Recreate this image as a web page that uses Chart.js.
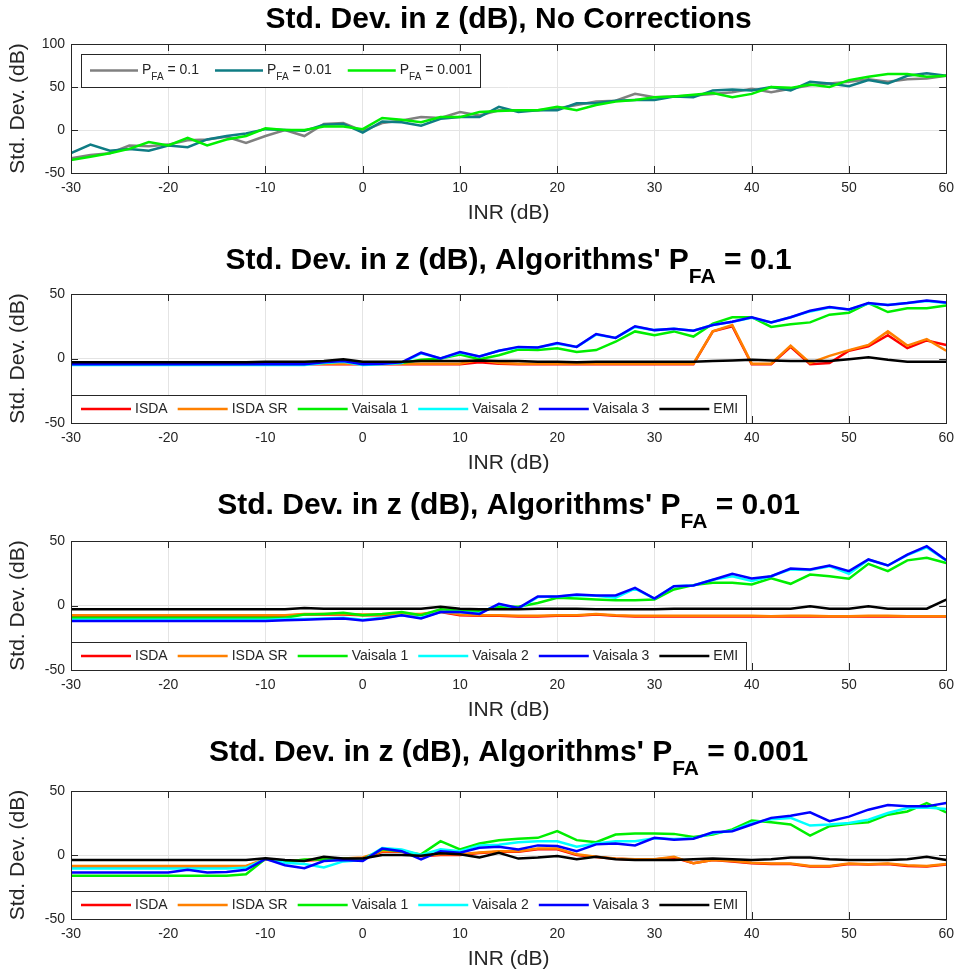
<!DOCTYPE html>
<html>
<head>
<meta charset="utf-8">
<script src="https://cdn.jsdelivr.net/npm/chart.js@4"></script>
<style>
  body { margin: 0; background: #fff; }
  canvas { position: absolute; left: 0; }
</style>
</head>
<body>
<canvas id="c1"></canvas>
<canvas id="c2"></canvas>
<canvas id="c3"></canvas>
<canvas id="c4"></canvas>
<script>
// INR (dB) sample points
const inr = [-30,-28,-26,-24,-22,-20,-18,-16,-14,-12,-10,-8,-6,-4,-2,0,2,4,6,8,10,12,14,16,18,20,22,24,26,28,30,32,34,36,38,40,42,44,46,48,50,52,54,56,58,60];
const xTickVals = [-30,-20,-10,0,10,20,30,40,50,60];
const yTicksTop = [-50,0,50,100];
const yTicksAlg = [-50,0,50];

// panel 1 - no corrections
const noCorr_pfa1   = [-33,-29,-27,-18,-19,-17,-12,-11,-8,-15,-7,0,-7,7,8,-1,8,11,15,14,21,17,23,23,23,25,29,33,34,42,38,39,40,42,44,48,44,48,52,54,56,59,56,59,60,63];
const noCorr_pfa01  = [-27,-17,-24,-22,-24,-18,-20,-11,-7,-4,1,0,-1,6,7,-3,10,9,5,13,15,15,27,21,23,23,31,31,34,35,35,39,38,46,47,46,50,46,56,54,51,58,54,63,66,63];
const noCorr_pfa001 = [-35,-31,-27,-22,-14,-18,-9,-18,-11,-7,2,0,0,4,4,1,14,12,9,15,15,21,22,23,23,27,23,29,33,35,38,39,41,43,38,42,50,49,53,50,58,62,65,65,62,63];

// panel 2 - algorithms' PFA = 0.1
const isda_1   = [-4.5,-4.5,-4.5,-4.5,-4.5,-4.5,-4.5,-4.5,-4.5,-4.5,-4.5,-4.5,-4.5,-4.5,-4.5,-4.5,-4.5,-4.5,-4.5,-4.5,-4.5,-3,-4,-4.5,-4.5,-4.5,-4.5,-4.5,-4.5,-4.5,-4.5,-4.5,-4.5,21,25,-4.5,-4.5,9,-4.5,-3.5,6,9.5,18,8,14,10.5];
const isdaSR_1 = [-4,-4,-4,-4,-4,-4,-4,-4,-4,-4,-4,-4,-4,-4,-4,-4,-4,-4,-4,-4,-4,-1,-3.5,-4,-4,-4,-4,-4,-4,-4,-4,-4,-4,21,26,-4,-4,10,-3.5,2,6.5,10.5,21,10,15,6];
const vais1_1  = [-3.5,-3.5,-3.5,-3.5,-3.5,-3.5,-3.5,-3.5,-3.5,-3.5,-3.5,-3.5,-3.5,-3.5,-2,-3.5,-3.5,-3.5,-1,0,3,-0.5,2.5,7,6.5,8,5,6.5,13,21,18,21,17,27,32,32,24.5,26.5,28,34,35.5,43,36,39,39,41];
const vais2_1  = [-5,-5,-5,-5,-5,-5,-5,-5,-5,-5,-5,-5,-5,-3.5,-2.5,-5,-4.5,-3.5,4,0,4.5,1.5,6,8.5,8.5,11.5,9,18.5,16,24.5,22,23,21.5,26,28.5,31.5,28,32,36.5,39.5,38,42.5,41.5,43,44.5,43];
const vais3_1  = [-4.5,-4.5,-4.5,-4.5,-4.5,-4.5,-4.5,-4.5,-4.5,-4.5,-4.5,-4.5,-4.5,-3,-2,-4.5,-4,-3,4.5,0,5,1.5,6,9,8.5,12,9,19,16,25,22,23,21.5,26,28.5,32,28,32,37,40,38,43,41.5,43,45,43.5];
const emi_1    = [-3,-3,-3,-3,-3,-3,-3,-3,-3,-3,-2.5,-2.5,-2.5,-2,-0.5,-2.5,-2.5,-2.5,-2,-2,-2,-1.5,-2,-2,-2.5,-2.5,-3,-2.5,-2.5,-2.5,-2.5,-2.5,-2.5,-2,-1.5,-1,-1.5,-2,-2,-2,-0.5,1,-1,-2.5,-2.5,-2.5];

// panel 3 - algorithms' PFA = 0.01
const isda_01   = [-8,-8,-8,-8,-8,-8,-8,-8,-8,-8,-8,-8,-7,-7,-7,-7.5,-7.5,-7,-7,-5,-7.5,-8,-8,-8.5,-8.5,-8,-8,-7,-8,-8.5,-8.5,-8.5,-8.5,-8.5,-8.5,-8.5,-8.5,-8.5,-8.5,-8.5,-8.5,-8.5,-8.5,-8.5,-8.5,-8.5];
const isdaSR_01 = [-7.5,-7.5,-7.5,-7.5,-7.5,-7.5,-7.5,-7.5,-7.5,-7.5,-7.5,-7.5,-6.5,-6.5,-6.5,-7,-7,-6.5,-6.5,-4.5,-7,-7.5,-7.5,-8,-8,-7.5,-7.5,-6.5,-7.5,-8,-8,-8,-8,-8,-8,-8,-8.3,-8,-8,-8.3,-8.3,-8,-8,-8.3,-8.3,-8.3];
const vais1_01  = [-9.5,-9.5,-9.5,-9.5,-9.5,-9.5,-9.5,-9.5,-9.5,-9.5,-9.5,-9.5,-7,-6.5,-5.7,-7.5,-6.5,-5,-7.5,-3,-4,-4.5,-1,-1,2,6,5.4,4.7,4,4,4.7,12.4,15.8,17.6,17.6,16.3,21,16.8,24,22.7,20.7,32.3,26.6,35,37,33];
const vais2_01  = [-11,-11,-11,-11,-11,-11,-11,-11,-11,-11,-11,-10.5,-10.5,-10,-9.5,-11,-9.5,-7.5,-9.5,-5,-5,-6,1,-2.5,6.5,7,8,7.5,6,13,5.4,15,15.5,20,22.7,19,22.7,28,27.5,30.5,24.5,35.5,31,39,45,35];
const vais3_01  = [-12,-12,-12,-12,-12,-12,-12,-12,-12,-12,-12,-11.5,-11,-10.5,-10,-11.6,-10,-7.5,-10,-5,-5,-6.5,1.3,-2,7,7,8.5,7.8,7.8,13.7,5.4,15,15.5,20,24.5,21,22.7,28.7,28,31,26.6,35.7,31,39.5,46,35];
const emi_01    = [-3,-3,-3,-3,-3,-3,-3,-3,-3,-3,-3,-3,-2,-2.5,-2.5,-2.5,-2.5,-2.5,-2.5,-1,-2.5,-3,-3,-3,-2.5,-2.5,-2.5,-3,-3,-3,-3,-2.5,-2.5,-2.5,-2.5,-2.5,-2.5,-2.5,-0.5,-2.5,-2.5,-0.5,-2.5,-2.5,-2.5,4.5];

// panel 4 - algorithms' PFA = 0.001
const isda_001   = [-9,-9,-9,-9,-9,-9,-9,-9,-9,-9,-3.5,-5,-4.5,-3.5,-3,-2.5,2.5,2.5,-1,0,0,1.5,2.5,2.5,4.5,4.5,0,-1.5,-3,-3.5,-3.5,-2,-6.5,-4,-5,-6.5,-7,-7,-9,-9,-7,-7.5,-7,-8.5,-9,-7.5];
const isdaSR_001 = [-8.5,-8.5,-8.5,-8.5,-8.5,-8.5,-8.5,-8.5,-8.5,-8.5,-3,-4.5,-3.9,-3,-2.8,-2,3,3,-0.5,0.5,0.5,2,3,3,5,5,0.5,-1.3,-2.8,-3.4,-3.4,-1.3,-6.5,-3.9,-4.7,-6,-6.7,-6.7,-8.5,-8.5,-6.7,-7.2,-6.7,-8,-8.5,-7];
const vais1_001  = [-16.3,-16.3,-16.3,-16.3,-16.3,-16.3,-16.3,-16.3,-16.3,-15,-3,-5.5,-3.5,-3.5,-3,-3.5,4.4,3,0.5,10.8,4.4,9,11.6,12.7,13.4,18.6,11.6,10,16,16.8,16.8,16.5,14,16,20,27,25.6,23.8,15.2,22.5,24.5,25.6,31.5,34,40.6,33.3];
const vais2_001  = [-10.6,-10.6,-10.6,-10.6,-10.6,-10.6,-10.6,-10.6,-10.6,-10,-3,-6,-7,-9.8,-5,-4,5.4,4.4,0,4.4,3,7.5,8,10,10.8,10.8,6.5,9,10.8,10.8,13,12.5,13,17,19,25,28,29,23,23.8,25,27.6,32.8,36.7,37.2,36];
const vais3_001  = [-13.7,-13.7,-13.7,-13.7,-13.7,-13.7,-11.6,-13.7,-13.2,-11.6,-3,-8,-10.3,-4.7,-4,-4.7,5,3,-3.4,3,1.8,5.7,6.5,4.4,7.5,7,3,8.3,9,7.5,13.4,12,12.7,17.8,18.6,23.8,29,30.7,33.3,26.4,30,35.4,39,38,38,40.6];
const emi_001    = [-3.9,-3.9,-3.9,-3.9,-3.9,-3.9,-3.9,-3.9,-3.9,-3.9,-2.5,-3.9,-4.7,-1.3,-2.8,-2.8,0,0,-0.5,1.3,0.5,-2,1.8,-2.8,-2,-0.8,-3.4,-1.3,-3.4,-3.9,-3.9,-3.9,-3.4,-2.8,-3.4,-3.9,-3.4,-2,-2,-3.4,-3.9,-3.9,-3.9,-3.4,-1.3,-3.9];

const algNames  = ['ISDA', 'ISDA SR', 'Vaisala 1', 'Vaisala 2', 'Vaisala 3', 'EMI'];
const algColors = ['#ff0000', '#ff8000', '#00ee00', '#00ffff', '#0000ff', '#000000'];

const FONT = "'Liberation Sans', Arial, Helvetica, sans-serif";
const AXIS_COLOR = '#262626';

function pts(arr) {
    return inr.map((x, i) => ({ x: x, y: arr[i] }));
}

// split "P_FA = 0.1" into base / subscript / tail
function splitSub(text) {
    let m = text.match(/^([^_]*)_([A-Z]+)(.*)$/);
    return m ? [m[1], m[2], m[3]] : [text, '', ''];
}

// box around the axes + inward tick marks (matlab style)
const framePlugin = {
    id: 'frame',
    afterDatasetsDraw(chart) {
        const ctx = chart.ctx;
        const a = chart.chartArea;
        const xs = chart.scales.x, ys = chart.scales.y;
        ctx.save();
        ctx.strokeStyle = AXIS_COLOR;
        ctx.lineWidth = 1;
        ctx.beginPath();
        xs.ticks.forEach(t => {
            let px = Math.round(xs.getPixelForValue(t.value)) + 0.5;
            ctx.moveTo(px, a.top); ctx.lineTo(px, a.top + 7);
            ctx.moveTo(px, a.bottom); ctx.lineTo(px, a.bottom - 7);
        });
        ys.ticks.forEach(t => {
            let py = Math.round(ys.getPixelForValue(t.value)) + 0.5;
            ctx.moveTo(a.left, py); ctx.lineTo(a.left + 7, py);
            ctx.moveTo(a.right, py); ctx.lineTo(a.right - 7, py);
        });
        ctx.stroke();
        ctx.strokeRect(Math.round(a.left) + 0.5, Math.round(a.top) + 0.5,
                       Math.round(a.right - a.left), Math.round(a.bottom - a.top));
        ctx.restore();
    }
};

// legend drawn inside the axes with a box
const boxLegendPlugin = {
    id: 'boxLegend',
    afterDatasetsDraw(chart, args, opts) {
        const ctx = chart.ctx;
        const a = chart.chartArea;
        const big = '14px ' + FONT, small = '10px ' + FONT;
        let left = a.left + opts.dx;
        let top = opts.anchor === 'top' ? a.top + opts.dy : a.bottom - opts.h;
        let cy = top + opts.h / 2;

        // measure first so the box fits
        ctx.save();
        let items = chart.data.datasets.map(ds => {
            let parts = splitSub(ds.label);
            ctx.font = big;
            let w0 = ctx.measureText(parts[0]).width;
            let w2 = ctx.measureText(parts[2]).width;
            ctx.font = small;
            let w1 = parts[1] ? ctx.measureText(parts[1]).width : 0;
            return { ds: ds, parts: parts, w: w0 + w1 + w2, w0: w0, w1: w1 };
        });
        let total = opts.padL;
        items.forEach((it, i) => {
            total += opts.lineLen + opts.gap + it.w + (i < items.length - 1 ? opts.entryGap : opts.padR);
        });

        ctx.fillStyle = '#fff';
        ctx.fillRect(left, top, total, opts.h);
        ctx.strokeStyle = AXIS_COLOR;
        ctx.lineWidth = 1;
        ctx.strokeRect(Math.round(left) + 0.5, Math.round(top) + 0.5, Math.round(total), Math.round(opts.h));

        let x = left + opts.padL;
        items.forEach(it => {
            ctx.strokeStyle = it.ds.borderColor;
            ctx.lineWidth = it.ds.borderWidth;
            ctx.beginPath();
            ctx.moveTo(x, cy); ctx.lineTo(x + opts.lineLen, cy);
            ctx.stroke();
            x += opts.lineLen + opts.gap;
            ctx.fillStyle = AXIS_COLOR;
            ctx.textBaseline = 'middle';
            ctx.textAlign = 'left';
            ctx.font = big;
            ctx.fillText(it.parts[0], x, cy);
            if (it.parts[1]) {
                ctx.font = small;
                ctx.fillText(it.parts[1], x + it.w0, cy + 7);
                ctx.font = big;
                ctx.fillText(it.parts[2], x + it.w0 + it.w1, cy);
            }
            x += it.w + opts.entryGap;
        });
        ctx.restore();
    }
};

// panel title with an optional subscript
const titlePlugin = {
    id: 'panelTitle',
    afterDraw(chart, args, opts) {
        const ctx = chart.ctx;
        const a = chart.chartArea;
        const big = 'bold 30px ' + FONT, small = 'bold 21px ' + FONT;
        let parts = splitSub(opts.text);
        ctx.save();
        ctx.font = big;
        let w0 = ctx.measureText(parts[0]).width;
        let w2 = ctx.measureText(parts[2]).width;
        ctx.font = small;
        let w1 = parts[1] ? ctx.measureText(parts[1]).width : 0;
        let x = (a.left + a.right) / 2 - (w0 + w1 + w2) / 2;
        let y = a.top - opts.offset;
        ctx.fillStyle = '#000';
        ctx.textBaseline = 'middle';
        ctx.textAlign = 'left';
        ctx.font = big;
        ctx.fillText(parts[0], x, y);
        if (parts[1]) {
            ctx.font = small;
            ctx.fillText(parts[1], x + w0, y + 16);
            ctx.font = big;
            ctx.fillText(parts[2], x + w0 + w1, y);
        }
        ctx.restore();
    }
};

function makePanel(cfg) {
    let canvas = document.getElementById(cfg.id);
    canvas.width = 961;
    canvas.height = cfg.height;
    canvas.style.top = cfg.top + 'px';
    canvas.style.width = '961px';
    canvas.style.height = cfg.height + 'px';

    let n = cfg.series.length;
    let datasets = cfg.series.map((s, i) => ({
        label: cfg.names[i],
        data: pts(s),
        borderColor: cfg.colors[i],
        backgroundColor: cfg.colors[i],
        borderWidth: 2.5,
        pointRadius: 0,
        tension: 0,
        fill: false,
        order: n - 1 - i   // later series drawn on top, like matlab
    }));

    return new Chart(canvas.getContext('2d'), {
        type: 'line',
        data: { datasets: datasets },
        plugins: [framePlugin, boxLegendPlugin, titlePlugin],
        options: {
            responsive: false,
            animation: false,
            devicePixelRatio: 1,
            layout: { padding: { top: cfg.padTop, right: 12, left: 0, bottom: 0 } },
            plugins: {
                legend: { display: false },
                tooltip: { enabled: false },
                panelTitle: { text: cfg.title, offset: cfg.titleOffset },
                boxLegend: cfg.legend
            },
            scales: {
                x: {
                    type: 'linear',
                    min: -30, max: 60,
                    afterBuildTicks: s => { s.ticks = xTickVals.map(v => ({ value: v })); },
                    afterFit: s => { s.height = 60; },
                    ticks: { color: AXIS_COLOR, padding: 7, maxRotation: 0, font: { family: FONT, size: 14 } },
                    grid: { color: '#e4e4e4', drawTicks: false },
                    border: { display: false },
                    title: { display: true, text: 'INR (dB)', color: AXIS_COLOR, padding: { bottom: 7, top: 0 }, font: { family: FONT, size: 21 } }
                },
                y: {
                    min: cfg.yMin, max: cfg.yMax,
                    afterBuildTicks: s => { s.ticks = cfg.yTicks.map(v => ({ value: v })); },
                    afterFit: s => { s.width = 71; },
                    ticks: { color: AXIS_COLOR, padding: 6, font: { family: FONT, size: 14 } },
                    grid: { color: '#e4e4e4', drawTicks: false },
                    border: { display: false },
                    title: { display: true, text: 'Std. Dev. (dB)', color: AXIS_COLOR, padding: { top: 6, bottom: 0 }, font: { family: FONT, size: 21 } }
                }
            }
        }
    });
}

const algLegend = { anchor: 'bottom', dx: 0, h: 28, padL: 10, padR: 8, lineLen: 50, gap: 4, entryGap: 10 };

makePanel({
    id: 'c1', top: 0, height: 233, padTop: 44,
    yMin: -50, yMax: 100, yTicks: yTicksTop,
    title: 'Std. Dev. in z (dB), No Corrections', titleOffset: 24,
    names: ['P_FA = 0.1', 'P_FA = 0.01', 'P_FA = 0.001'],
    colors: ['#808080', '#0f7c84', '#00f000'],
    series: [noCorr_pfa1, noCorr_pfa01, noCorr_pfa001],
    legend: { anchor: 'top', dx: 10, dy: 10, h: 33, padL: 9, padR: 8, lineLen: 48, gap: 4, entryGap: 16 }
});

makePanel({
    id: 'c2', top: 233, height: 250, padTop: 61,
    yMin: -50, yMax: 50, yTicks: yTicksAlg,
    title: "Std. Dev. in z (dB), Algorithms' P_FA = 0.1", titleOffset: 33,
    names: algNames, colors: algColors,
    series: [isda_1, isdaSR_1, vais1_1, vais2_1, vais3_1, emi_1],
    legend: algLegend
});

makePanel({
    id: 'c3', top: 483, height: 247, padTop: 58,
    yMin: -50, yMax: 50, yTicks: yTicksAlg,
    title: "Std. Dev. in z (dB), Algorithms' P_FA = 0.01", titleOffset: 35,
    names: algNames, colors: algColors,
    series: [isda_01, isdaSR_01, vais1_01, vais2_01, vais3_01, emi_01],
    legend: algLegend
});

makePanel({
    id: 'c4', top: 730, height: 249, padTop: 61,
    yMin: -50, yMax: 50, yTicks: yTicksAlg,
    title: "Std. Dev. in z (dB), Algorithms' P_FA = 0.001", titleOffset: 38,
    names: algNames, colors: algColors,
    series: [isda_001, isdaSR_001, vais1_001, vais2_001, vais3_001, emi_001],
    legend: algLegend
});
</script>
</body>
</html>
